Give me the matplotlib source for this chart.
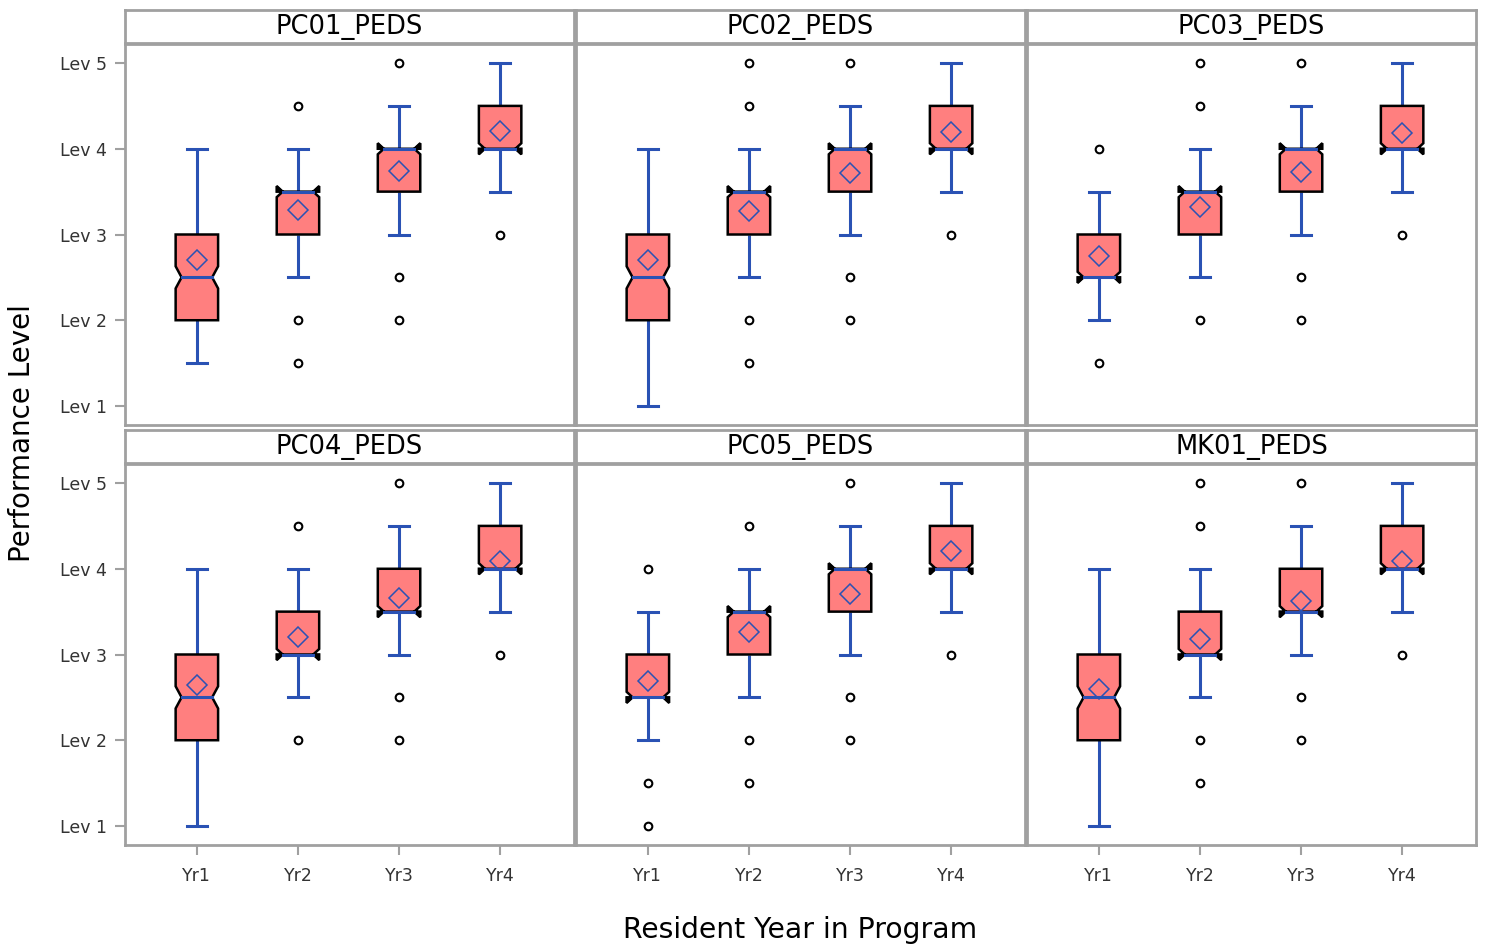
import matplotlib
matplotlib.use("Agg")
import matplotlib.pyplot as plt
import numpy as np
from matplotlib.patches import Polygon

plt.rcParams["font.family"] = ["DejaVu Sans"]

# ---- data -------------------------------------------------------------
panels = ["PC01_PEDS", "PC02_PEDS", "PC03_PEDS", "PC04_PEDS", "PC05_PEDS", "MK01_PEDS"]
years = ["Yr1", "Yr2", "Yr3", "Yr4"]
level_ticks = [1, 2, 3, 4, 5]
level_labels = ["Lev 1", "Lev 2", "Lev 3", "Lev 4", "Lev 5"]
n_per_year = 150  # residents per year group (sets the notch height)

q1 = [
    [2.0, 3.0, 3.5, 4.0],
    [2.0, 3.0, 3.5, 4.0],
    [2.5, 3.0, 3.5, 4.0],
    [2.0, 3.0, 3.5, 4.0],
    [2.5, 3.0, 3.5, 4.0],
    [2.0, 3.0, 3.5, 4.0],
]
median = [
    [2.5, 3.5, 4.0, 4.0],
    [2.5, 3.5, 4.0, 4.0],
    [2.5, 3.5, 4.0, 4.0],
    [2.5, 3.0, 3.5, 4.0],
    [2.5, 3.5, 4.0, 4.0],
    [2.5, 3.0, 3.5, 4.0],
]
q3 = [
    [3.0, 3.5, 4.0, 4.5],
    [3.0, 3.5, 4.0, 4.5],
    [3.0, 3.5, 4.0, 4.5],
    [3.0, 3.5, 4.0, 4.5],
    [3.0, 3.5, 4.0, 4.5],
    [3.0, 3.5, 4.0, 4.5],
]
whisk_lo = [
    [1.5, 2.5, 3.0, 3.5],
    [1.0, 2.5, 3.0, 3.5],
    [2.0, 2.5, 3.0, 3.5],
    [1.0, 2.5, 3.0, 3.5],
    [2.0, 2.5, 3.0, 3.5],
    [1.0, 2.5, 3.0, 3.5],
]
whisk_hi = [
    [4.0, 4.0, 4.5, 5.0],
    [4.0, 4.0, 4.5, 5.0],
    [3.5, 4.0, 4.5, 5.0],
    [4.0, 4.0, 4.5, 5.0],
    [3.5, 4.0, 4.5, 5.0],
    [4.0, 4.0, 4.5, 5.0],
]
means = [
    [2.70, 3.29, 3.74, 4.21],
    [2.70, 3.27, 3.72, 4.20],
    [2.75, 3.32, 3.73, 4.18],
    [2.64, 3.20, 3.66, 4.09],
    [2.69, 3.26, 3.71, 4.21],
    [2.60, 3.18, 3.62, 4.09],
]
outliers = [
    [[], [4.5, 2.0, 1.5], [5.0, 2.5, 2.0], [3.0]],
    [[], [5.0, 4.5, 2.0, 1.5], [5.0, 2.5, 2.0], [3.0]],
    [[4.0, 1.5], [5.0, 4.5, 2.0], [5.0, 2.5, 2.0], [3.0]],
    [[], [4.5, 2.0], [5.0, 2.5, 2.0], [3.0]],
    [[4.0, 1.5, 1.0], [4.5, 2.0, 1.5], [5.0, 2.5, 2.0], [3.0]],
    [[], [5.0, 4.5, 2.0, 1.5], [5.0, 2.5, 2.0], [3.0]],
]

# ---- style ------------------------------------------------------------
BOX_FILL = "#ff7f7f"
BLUE = "#2a52b4"
FRAME = "#a0a0a0"
TICK_TXT = "#333333"
BOX_HW = 0.21
NOTCH_FRAC = 0.72
CAP_HW = 0.10


def draw_box(ax, x, b1, med, b3, lo, hi, mean, outs, n):
    h = 1.58 * (b3 - b1) / np.sqrt(n)
    cilo, cihi = med - h, med + h
    nw = NOTCH_FRAC * BOX_HW
    verts = [
        (x - BOX_HW, b1), (x - BOX_HW, cilo), (x - nw, med), (x - BOX_HW, cihi),
        (x - BOX_HW, b3), (x + BOX_HW, b3), (x + BOX_HW, cihi), (x + nw, med),
        (x + BOX_HW, cilo), (x + BOX_HW, b1),
    ]
    ax.add_patch(Polygon(verts, closed=True, facecolor=BOX_FILL, edgecolor="black",
                         linewidth=1.8, joinstyle="miter", zorder=3))
    # notch "ears" where the interval runs past the box edge
    for edge, tip in ((b3, cihi), (b1, cilo)):
        if (tip - edge) * (edge - med) <= 0 and med == edge:
            for sgn in (-1, 1):
                ear = [(x + sgn * BOX_HW, edge), (x + sgn * BOX_HW, tip), (x + sgn * nw, med)]
                ax.add_patch(Polygon(ear, closed=True, facecolor="black",
                                     edgecolor="black", linewidth=1.2, zorder=3.5))
    # whiskers and caps
    ax.plot([x, x], [b3, hi], color=BLUE, lw=2.2, zorder=2, solid_capstyle="butt")
    ax.plot([x, x], [lo, b1], color=BLUE, lw=2.2, zorder=2, solid_capstyle="butt")
    ax.plot([x - CAP_HW, x + CAP_HW], [hi, hi], color=BLUE, lw=2.2, zorder=2)
    ax.plot([x - CAP_HW, x + CAP_HW], [lo, lo], color=BLUE, lw=2.2, zorder=2)
    # median and mean
    ax.plot([x - nw, x + nw], [med, med], color=BLUE, lw=2.2, zorder=4)
    ax.plot([x], [mean], marker="D", ms=10.5, mfc="none", mec=BLUE, mew=1.1, zorder=5)
    if outs:
        ax.plot([x] * len(outs), outs, ls="none", marker="o", ms=5.5, mfc="white",
                mec="black", mew=1.5, zorder=5)


W, H = 1488, 950
fig = plt.figure(figsize=(W / 100, H / 100), dpi=100)

col_left = [125, 576, 1027]
col_w = 449
strip_top = [10, 430]
strip_h = 33
plot_top = [44, 464]
plot_h = 381


def px_axes(x0, y0, w, h):
    return fig.add_axes([x0 / W, 1 - (y0 + h) / H, w / W, h / H])


for p, name in enumerate(panels):
    r, c = divmod(p, 3)
    ax = px_axes(col_left[c], plot_top[r], col_w, plot_h)
    xs = np.arange(1, len(years) + 1)
    for i, x in enumerate(xs):
        draw_box(ax, x, q1[p][i], median[p][i], q3[p][i], whisk_lo[p][i],
                 whisk_hi[p][i], means[p][i], outliers[p][i], n_per_year)
    ax.set_xlim(0.289, 4.731)
    ax.set_ylim(0.778, 5.222)
    for s in ax.spines.values():
        s.set_color(FRAME)
        s.set_linewidth(2.0)
    ax.set_xticks(xs)
    ax.set_yticks(level_ticks)
    ax.tick_params(colors=FRAME, labelcolor=TICK_TXT, labelsize=12.5, length=7, width=1.5)
    ax.tick_params(axis="x", pad=9)
    ax.tick_params(axis="y", pad=6)
    if r == 1:
        ax.set_xticklabels(years)
    else:
        ax.tick_params(axis="x", bottom=False, labelbottom=False)
    if c == 0:
        ax.set_yticklabels(level_labels)
    else:
        ax.tick_params(axis="y", left=False, labelleft=False)

    sax = px_axes(col_left[c], strip_top[r], col_w, strip_h)
    sax.set_xticks([])
    sax.set_yticks([])
    for s in sax.spines.values():
        s.set_color(FRAME)
        s.set_linewidth(2.0)
    sax.text(0.5, 0.5, name, ha="center", va="center", fontsize=18.5,
             transform=sax.transAxes)

fig.text(22 / W, 1 - 433 / H, "Performance Level", rotation=90, ha="center",
         va="center", fontsize=20)
fig.text(800 / W, 1 - 930 / H, "Resident Year in Program", ha="center",
         va="center", fontsize=20.3)

fig.savefig("out.png", dpi=100)
